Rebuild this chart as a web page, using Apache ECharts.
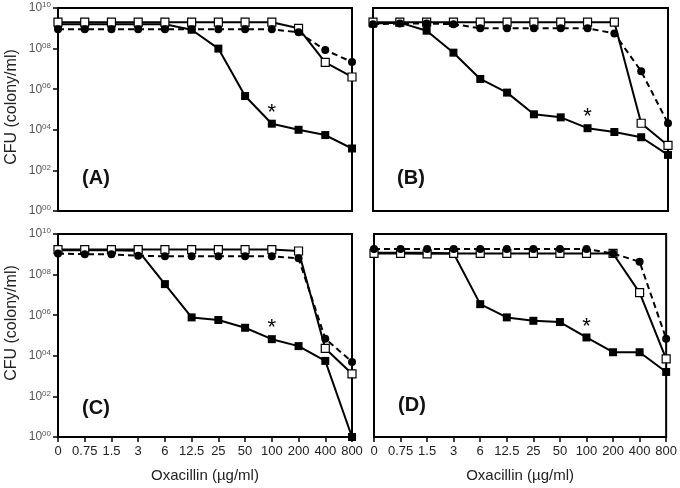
<!DOCTYPE html>
<html><head><meta charset="utf-8">
<script src="https://cdn.jsdelivr.net/npm/echarts@6/dist/echarts.min.js"></script>
<style>html,body{margin:0;padding:0;background:#fff}#c{width:680px;height:488px}</style>
</head><body><div id="c"></div>
<script>
const categories = ['0','0.75','1.5','3','6','12.5','25','50','100','200','400','800'];
const yTickSup = ['00','02','04','06','08','10'];
const panelLabels = ['(A)','(B)','(C)','(D)'];
const xTitle = 'Oxacillin (\u00b5g/ml)';
const yTitle = 'CFU (colony/ml)';
const asteriskIndex = 8;

// Panel A
const aFilled = [1.6e9,1.6e9,1.6e9,1.6e9,1.6e9,8.5e8,1e8,4.6e5,2e4,1e4,5.5e3,1.2e3];
const aOpen   = [2e9,2e9,2e9,2e9,2e9,2e9,2e9,2e9,2e9,1e9,2.1e7,4e6];
const aCircle = [9e8,9e8,9e8,9e8,9e8,9e8,9e8,9e8,9e8,6.3e8,8.5e7,2.2e7];
// Panel B
const bFilled = [1.7e9,1.9e9,7.6e8,6.3e7,3.2e6,6.8e5,5.8e4,4.1e4,1.2e4,7.8e3,4.3e3,5.8e2];
const bOpen   = [2e9,2e9,2e9,2e9,2e9,2e9,2e9,2e9,2e9,2e9,2.1e4,1.7e3];
const bCircle = [1.6e9,1.7e9,1.7e9,1.6e9,1e9,1e9,1e9,1e9,1e9,5.6e8,7.6e6,2.1e4];
// Panel C
const cFilled = [1.6e9,1.6e9,1.6e9,1.5e9,3.4e7,7.8e5,5.8e5,2.4e5,6.6e4,3e4,5.6e3,1];
const cOpen   = [1.7e9,1.7e9,1.7e9,1.7e9,1.7e9,1.7e9,1.7e9,1.7e9,1.7e9,1.45e9,2.3e4,1.3e3];
const cCircle = [1.1e9,1e9,1e9,8.5e8,8e8,8e8,8e8,8e8,8e8,6.3e8,7e4,5e3];
// Panel D
const dFilled = [1.2e9,1.2e9,1.2e9,1.1e9,3.5e6,7.8e5,5.3e5,4.6e5,8e4,1.5e4,1.5e4,1.6e3];
const dOpen   = [1.1e9,1.1e9,1.05e9,1.1e9,1.1e9,1.1e9,1.1e9,1.1e9,1.1e9,1.1e9,1.3e7,7e3];
const dCircle = [1.8e9,1.8e9,1.8e9,1.8e9,1.8e9,1.8e9,1.8e9,1.8e9,1.8e9,1.1e9,4.3e8,7e4];

const panels = [
  {filled:aFilled, open:aOpen, circle:aCircle},
  {filled:bFilled, open:bOpen, circle:bCircle},
  {filled:cFilled, open:cOpen, circle:cCircle},
  {filled:dFilled, open:dOpen, circle:dCircle}
];

const FONT = '"Liberation Sans", Arial, sans-serif';
const grids = [
  {left:58, top:8, width:294, height:203},
  {left:373, top:8, width:295, height:203},
  {left:58, top:234, width:294, height:203},
  {left:374, top:234, width:294, height:203}
];

const xAxes = [], yAxes = [], series = [];
grids.forEach((g, i) => {
  const bottom = i >= 2, left = (i % 2) === 0;
  g.show = true; g.borderColor = '#000'; g.borderWidth = 2; g.containLabel = false;
  xAxes.push({
    type:'category', gridIndex:i, data:categories, boundaryGap:false,
    axisLine:{show:true, lineStyle:{color:'#000', width:2}},
    axisTick:{show:bottom, length:5, lineStyle:{color:'#000', width:1.5}},
    axisLabel:{show:bottom, margin:8, fontFamily:FONT, fontSize:13, color:'#222', interval:0},
    splitLine:{show:false},
    name: bottom ? xTitle : '', nameLocation:'middle', nameGap:31,
    nameTextStyle:{fontFamily:FONT, fontSize:15, color:'#222'}
  });
  yAxes.push({
    type:'log', logBase:10, gridIndex:i, min:1, max:1e10, interval:2,
    axisLine:{show:true, lineStyle:{color:'#000', width:2}},
    axisTick:{show:left, length:5, lineStyle:{color:'#000', width:1.5}},
    minorTick:{show:false},
    splitLine:{show:false},
    axisLabel:{show:left, margin:7, fontFamily:FONT,
      formatter: v => { const e = Math.round(Math.log10(v)); return '{b|10}{s|' + yTickSup[e/2] + '}'; },
      rich:{ b:{fontSize:12, color:'#555', fontFamily:FONT, lineHeight:14},
             s:{fontSize:8, color:'#555', fontFamily:FONT, verticalAlign:'top', lineHeight:10} } }
  });
  const p = panels[i];
  series.push({
    type:'line', xAxisIndex:i, yAxisIndex:i, z:2,
    data: p.filled.map((v, k) => k === asteriskIndex ? {value:v, label:{show:true, formatter:'*', position:'top', distance:-4, fontSize:22, color:'#000', fontFamily:FONT}} : v),
    symbol:'rect', symbolSize:8, showAllSymbol:true,
    itemStyle:{color:'#000'}, lineStyle:{color:'#000', width:2}
  });
  series.push({
    type:'line', xAxisIndex:i, yAxisIndex:i, z:3, data:p.open,
    symbol:'rect', symbolSize:8, showAllSymbol:true,
    itemStyle:{color:'#fff', borderColor:'#000', borderWidth:1.2}, lineStyle:{color:'#000', width:2}
  });
  series.push({
    type:'line', xAxisIndex:i, yAxisIndex:i, z:4, data:p.circle,
    symbol:'circle', symbolSize:8, showAllSymbol:true,
    itemStyle:{color:'#000'}, lineStyle:{color:'#000', width:2, type:[6,4]}
  });
});

const letterPos = [[96,178],[411,178],[96,408],[412,405]];
const graphic = [
  {type:'text', x:12, y:107, rotation:Math.PI/2, style:{text:yTitle, font:'16px ' + FONT, fill:'#222', textAlign:'center', textVerticalAlign:'middle'}},
  {type:'text', x:12, y:323, rotation:Math.PI/2, style:{text:yTitle, font:'16px ' + FONT, fill:'#222', textAlign:'center', textVerticalAlign:'middle'}}
];
panelLabels.forEach((t, i) => graphic.push({type:'text', x:letterPos[i][0], y:letterPos[i][1],
  style:{text:t, font:'bold 20px ' + FONT, fill:'#111', textAlign:'center', textVerticalAlign:'middle'}}));

const chart = echarts.init(document.getElementById('c'), null, {renderer:'canvas'});
chart.setOption({animation:false, backgroundColor:'#fff', grid:grids, xAxis:xAxes, yAxis:yAxes, series:series, graphic:graphic});
</script></body></html>
